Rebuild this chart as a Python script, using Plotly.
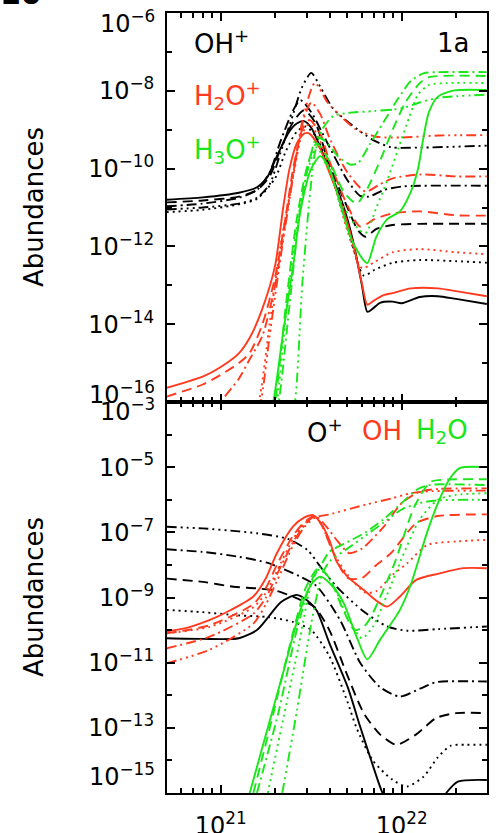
import numpy as np
import plotly.graph_objects as go

# ---------------- DATA (log10 N_H [cm^-2], log10 abundance) ----------------
# Panel 1a (top): OH+ (black)
ohp_solid_x = [20.70, 20.9, 21.1, 21.2, 21.26, 21.31, 21.38, 21.42, 21.46, 21.5, 21.55, 21.6, 21.65, 21.7, 21.74, 21.78, 21.81, 21.84, 21.88, 21.95, 22.0, 22.1, 22.2, 22.3, 22.47]
ohp_solid_y = [-10.80, -10.74, -10.62, -10.48, -10.2, -9.68, -9.04, -8.84, -8.78, -8.95, -9.45, -10.05, -10.6, -11.3, -12.05, -13.0, -13.68, -13.6, -13.45, -13.42, -13.46, -13.3, -13.28, -13.35, -13.48]
ohp_dash_x = [20.70, 20.9, 21.1, 21.2, 21.27, 21.33, 21.4, 21.46, 21.52, 21.6, 21.7, 21.76, 21.8, 21.86, 21.95, 22.1, 22.47]
ohp_dash_y = [-10.87, -10.82, -10.72, -10.55, -10.2, -9.5, -8.8, -8.5, -8.8, -9.9, -11.0, -11.6, -11.75, -11.55, -11.45, -11.42, -11.42]
ohp_dashdot_x = [20.70, 20.9, 21.1, 21.2, 21.27, 21.33, 21.4, 21.44, 21.5, 21.59, 21.7, 21.77, 21.82, 21.9, 22.0, 22.47]
ohp_dashdot_y = [-10.97, -10.9, -10.75, -10.55, -10.1, -9.3, -8.5, -8.24, -8.55, -9.35, -10.3, -10.7, -10.72, -10.55, -10.46, -10.44]
ohp_ddd_x = [20.70, 20.9, 21.1, 21.2, 21.27, 21.33, 21.4, 21.45, 21.5, 21.55, 21.62, 21.71, 21.84, 21.94, 22.1, 22.47]
ohp_ddd_y = [-11.05, -11.0, -10.9, -10.75, -10.4, -9.6, -8.6, -7.9, -7.54, -7.9, -8.45, -8.83, -9.26, -9.45, -9.46, -9.41]
ohp_dot_x = [20.70, 20.9, 21.1, 21.2, 21.3, 21.36, 21.42, 21.47, 21.53, 21.6, 21.7, 21.79, 21.85, 21.95, 22.1, 22.3, 22.47]
ohp_dot_y = [-11.12, -11.06, -10.92, -10.78, -10.25, -9.55, -9.05, -8.92, -9.2, -10.0, -11.5, -12.75, -12.6, -12.42, -12.35, -12.38, -12.42]

# Panel 1a (top): H2O+ (red)
h2op_solid_x = [20.70, 20.8, 20.9, 21.0, 21.1, 21.16, 21.23, 21.3, 21.345, 21.38, 21.42, 21.46, 21.49, 21.55, 21.6, 21.65, 21.7, 21.74, 21.78, 21.81, 21.85, 21.9, 21.95, 22.05, 22.2, 22.3, 22.47]
h2op_solid_y = [-15.64, -15.5, -15.35, -15.1, -14.75, -14.35, -13.6, -12.5, -11.0, -10.0, -9.35, -9.1, -9.1, -9.5, -10.1, -10.7, -11.4, -12.1, -12.95, -13.5, -13.38, -13.25, -13.2, -13.08, -13.08, -13.15, -13.28]
h2op_dash_x = [20.70, 20.9, 21.0, 21.1, 21.16, 21.23, 21.3, 21.36, 21.4, 21.45, 21.49, 21.55, 21.6, 21.7, 21.77, 21.85, 21.95, 22.1, 22.3, 22.47]
h2op_dash_y = [-15.86, -15.55, -15.3, -15.0, -14.74, -14.0, -12.8, -11.2, -10.0, -9.0, -8.75, -9.1, -9.8, -10.95, -11.49, -11.3, -11.15, -11.1, -11.2, -11.21]
h2op_dashdot_x = [20.97, 21.0, 21.1, 21.16, 21.23, 21.3, 21.36, 21.42, 21.46, 21.5, 21.55, 21.6, 21.7, 21.8, 21.88, 21.95, 22.1, 22.3, 22.47]
h2op_dashdot_y = [-16.3, -16.0, -15.4, -14.9, -14.3, -13.0, -11.3, -9.6, -8.7, -8.3, -8.6, -9.2, -10.1, -10.59, -10.4, -10.25, -10.15, -10.2, -10.2]
h2op_dot_x = [21.18, 21.21, 21.27, 21.33, 21.4, 21.45, 21.49, 21.55, 21.62, 21.7, 21.78, 21.85, 21.95, 22.1, 22.3, 22.47]
h2op_dot_y = [-16.3, -16.0, -14.0, -12.0, -10.2, -9.1, -8.85, -9.3, -10.3, -11.6, -12.56, -12.4, -12.15, -12.07, -12.15, -12.2]
h2op_ddd_x = [21.19, 21.22, 21.27, 21.33, 21.4, 21.45, 21.52, 21.59, 21.65, 21.75, 21.86, 22.0, 22.2, 22.47]
h2op_ddd_y = [-16.3, -16.0, -14.3, -12.3, -10.2, -8.8, -7.8, -8.3, -8.6, -9.0, -9.18, -9.2, -9.15, -9.14]

# Panel 1a (top): H3O+ (green)
h3op_solid_x = [21.27, 21.29, 21.345, 21.4, 21.44, 21.5, 21.55, 21.6, 21.66, 21.72, 21.78, 21.81, 21.86, 21.92, 21.99, 22.05, 22.09, 22.12, 22.15, 22.2, 22.29, 22.47]
h3op_solid_y = [-16.3, -16.0, -14.2, -12.5, -11.1, -10.0, -9.68, -10.0, -10.9, -11.8, -12.3, -12.43, -11.75, -11.3, -11.1, -10.6, -10.0, -9.2, -8.55, -8.15, -7.99, -7.98]
h3op_dashdot_x = [21.30, 21.32, 21.38, 21.44, 21.5, 21.53, 21.58, 21.65, 21.72, 21.76, 21.82, 21.9, 21.98, 22.05, 22.12, 22.2, 22.47]
h3op_dashdot_y = [-16.3, -16.0, -13.5, -11.0, -9.6, -9.2, -9.3, -9.7, -9.9, -9.85, -9.4, -8.8, -8.2, -7.75, -7.55, -7.52, -7.52]
h3op_dash_x = [21.28, 21.30, 21.36, 21.42, 21.48, 21.53, 21.6, 21.68, 21.75, 21.8, 21.88, 21.95, 22.02, 22.1, 22.15, 22.47]
h3op_dash_y = [-16.3, -16.0, -13.5, -11.3, -9.9, -9.35, -9.8, -10.6, -10.9, -10.6, -9.8, -9.0, -8.3, -7.8, -7.65, -7.62]
h3op_dot_x = [21.29, 21.31, 21.37, 21.43, 21.49, 21.53, 21.6, 21.68, 21.76, 21.8, 21.86, 21.92, 21.98, 22.04, 22.09, 22.15, 22.25, 22.47]
h3op_dot_y = [-16.3, -16.0, -13.3, -11.2, -9.9, -9.45, -10.1, -11.0, -11.55, -11.66, -11.0, -10.3, -9.5, -8.7, -8.1, -7.85, -7.8, -7.8]
h3op_ddd_x = [21.39, 21.41, 21.45, 21.49, 21.52, 21.56, 21.62, 21.7, 21.85, 22.0, 22.1, 22.2, 22.47]
h3op_ddd_y = [-16.3, -16.0, -13.0, -10.8, -9.6, -9.0, -8.65, -8.57, -8.52, -8.45, -8.3, -8.18, -8.1]

# Bottom panel: O+ (black)
op_solid_x = [20.70, 20.9, 21.1, 21.2, 21.27, 21.33, 21.42, 21.48, 21.53, 21.6, 21.7, 21.77, 21.83, 21.89, 21.95, 22.1, 22.2, 22.25, 22.31, 22.47]
op_solid_y = [-10.25, -10.27, -10.25, -10.0, -9.55, -9.15, -8.92, -9.1, -9.4, -10.4, -11.73, -12.96, -13.98, -14.95, -15.6, -15.8, -15.4, -14.97, -14.65, -14.6]
op_dot_x = [20.70, 20.9, 21.1, 21.26, 21.4, 21.5, 21.6, 21.7, 21.75, 21.84, 21.95, 22.03, 22.12, 22.2, 22.27, 22.35, 22.47]
op_dot_y = [-9.38, -9.45, -9.55, -9.6, -9.75, -10.0, -10.8, -12.2, -13.0, -14.0, -14.6, -14.8, -14.5, -13.9, -13.55, -13.52, -13.52]
op_dash_x = [20.70, 20.9, 21.07, 21.2, 21.31, 21.44, 21.52, 21.6, 21.7, 21.79, 21.88, 21.97, 22.08, 22.19, 22.3, 22.47]
op_dash_y = [-8.42, -8.52, -8.67, -8.72, -8.8, -9.07, -9.3, -10.0, -11.4, -12.55, -13.2, -13.52, -13.2, -12.7, -12.55, -12.55]
op_dashdot_x = [20.70, 20.9, 21.1, 21.26, 21.44, 21.53, 21.66, 21.77, 21.88, 21.99, 22.1, 22.19, 22.47]
op_dashdot_y = [-7.52, -7.6, -7.75, -7.94, -8.36, -8.65, -9.7, -11.0, -11.75, -12.04, -11.8, -11.6, -11.58]
op_ddd_x = [20.70, 20.9, 21.1, 21.2, 21.37, 21.48, 21.55, 21.64, 21.79, 21.92, 22.03, 22.2, 22.47]
op_ddd_y = [-6.83, -6.88, -6.97, -7.03, -7.2, -7.55, -8.05, -8.67, -9.43, -9.89, -10.02, -9.97, -9.89]

# Bottom panel: OH (red)
oh_solid_x = [20.70, 20.8, 20.94, 21.05, 21.18, 21.25, 21.31, 21.4, 21.46, 21.51, 21.55, 21.6, 21.64, 21.7, 21.79, 21.86, 21.92, 21.99, 22.08, 22.21, 22.34, 22.47]
oh_solid_y = [-10.04, -9.95, -9.69, -9.4, -8.97, -8.4, -7.64, -6.82, -6.55, -6.47, -6.7, -7.23, -7.9, -8.36, -8.77, -9.1, -9.28, -8.97, -8.46, -8.26, -8.1, -8.1]
oh_dash_x = [20.70, 20.94, 21.18, 21.25, 21.31, 21.4, 21.46, 21.52, 21.56, 21.62, 21.7, 21.78, 21.86, 21.94, 22.08, 22.2, 22.47]
oh_dash_y = [-10.1, -9.85, -9.2, -8.7, -8.0, -7.1, -6.7, -6.5, -6.8, -7.6, -8.4, -8.4, -8.0, -7.64, -6.72, -6.5, -6.45]
oh_dot_x = [20.70, 20.94, 21.18, 21.25, 21.31, 21.4, 21.46, 21.52, 21.56, 21.62, 21.7, 21.8, 21.86, 21.95, 22.03, 22.14, 22.3, 22.47]
oh_dot_y = [-10.1, -9.9, -9.3, -8.85, -8.2, -7.2, -6.75, -6.52, -6.8, -7.6, -8.3, -8.85, -8.8, -8.3, -7.95, -7.39, -7.28, -7.23]
oh_dashdot_x = [20.70, 20.94, 21.18, 21.25, 21.31, 21.4, 21.46, 21.52, 21.58, 21.65, 21.71, 21.78, 21.9, 22.0, 22.1, 22.2, 22.47]
oh_dashdot_y = [-10.56, -10.2, -9.5, -9.0, -8.3, -7.3, -6.8, -6.5, -6.8, -7.3, -7.64, -7.5, -6.83, -6.1, -5.75, -5.67, -5.65]
oh_ddd_x = [20.70, 20.94, 21.18, 21.25, 21.31, 21.4, 21.46, 21.52, 21.6, 21.8, 21.95, 22.05, 22.15, 22.47]
oh_ddd_y = [-11.02, -10.6, -9.8, -9.2, -8.5, -7.4, -6.85, -6.55, -6.45, -6.15, -5.95, -5.8, -5.74, -5.72]

# Bottom panel: H2O (green)
h2o_solid_x = [21.16, 21.25, 21.35, 21.44, 21.5, 21.55, 21.62, 21.68, 21.75, 21.81, 21.88, 21.99, 22.05, 22.14, 22.2, 22.26, 22.32, 22.47]
h2o_solid_y = [-15.0, -13.2, -11.2, -9.38, -8.6, -8.36, -8.67, -9.18, -10.2, -10.9, -10.3, -9.38, -8.6, -7.0, -6.1, -5.4, -5.03, -5.0]
h2o_dash_x = [21.18, 21.28, 21.38, 21.47, 21.54, 21.6, 21.67, 21.74, 21.79, 21.83, 21.96, 22.07, 22.16, 22.25, 22.47]
h2o_dash_y = [-15.0, -12.8, -10.5, -8.7, -8.1, -8.4, -9.3, -10.0, -9.9, -9.59, -7.95, -6.21, -5.45, -5.38, -5.37]
h2o_dot_x = [21.26, 21.35, 21.43, 21.5, 21.55, 21.62, 21.7, 21.78, 21.84, 21.92, 22.0, 22.1, 22.2, 22.3, 22.47]
h2o_dot_y = [-15.0, -12.6, -10.5, -8.6, -8.1, -8.6, -9.6, -10.25, -9.9, -8.9, -7.8, -6.6, -6.0, -5.85, -5.8]
h2o_dashdot_x = [21.20, 21.32, 21.42, 21.5, 21.55, 21.6, 21.7, 21.8, 21.9, 22.0, 22.08, 22.15, 22.47]
h2o_dashdot_y = [-15.0, -12.5, -10.0, -8.5, -8.05, -7.6, -7.3, -7.0, -6.6, -6.1, -5.7, -5.55, -5.55]
h2o_ddd_x = [21.34, 21.42, 21.5, 21.56, 21.6, 21.7, 21.8, 21.9, 22.0, 22.1, 22.2, 22.47]
h2o_ddd_y = [-15.0, -12.5, -9.8, -8.3, -7.9, -7.5, -7.1, -6.7, -6.3, -6.1, -6.02, -6.0]

# tick labels
top_tick_exp = [-16, -14, -12, -10, -8, -6]
bot_tick_exp = [-15, -13, -11, -9, -7, -5, -3]
x_tick_exp = [21, 22]

# ---------------- STYLE ----------------
BLACK = "#000000"
RED = "#ff3a1e"
GREEN = "#1ae61a"
DASH = {
    "solid": "solid",
    "dot": "2px,4px",
    "dash": "10px,6px",
    "dashdot": "10px,4px,2px,4px",
    "ddd": "10px,4px,2px,4px,2px,4px,2px,4px",
}
FONT = "DejaVu Sans"
TICKSIZE = 24

W, H = 500, 833
L, R, T, B = 167, 13, 13, 40
PW, PH = W - L - R, H - T - B
SPLIT = (H - B - 402) / PH


def paper(px, py):
    return (px - L) / PW, (H - B - py) / PH


fig = go.Figure()


def add(xs, ys, color, style, panel):
    fig.add_trace(go.Scatter(
        x=np.power(10.0, xs), y=np.power(10.0, ys), mode="lines",
        line=dict(color=color, width=1.9, dash=DASH[style], shape="spline", smoothing=0.7),
        xaxis="x" if panel == 1 else "x2", yaxis="y" if panel == 1 else "y2",
        showlegend=False, hoverinfo="skip"))


top = [
    (ohp_solid_x, ohp_solid_y, BLACK, "solid"), (ohp_dash_x, ohp_dash_y, BLACK, "dash"),
    (ohp_dashdot_x, ohp_dashdot_y, BLACK, "dashdot"), (ohp_ddd_x, ohp_ddd_y, BLACK, "ddd"),
    (ohp_dot_x, ohp_dot_y, BLACK, "dot"),
    (h2op_solid_x, h2op_solid_y, RED, "solid"), (h2op_dash_x, h2op_dash_y, RED, "dash"),
    (h2op_dashdot_x, h2op_dashdot_y, RED, "dashdot"), (h2op_dot_x, h2op_dot_y, RED, "dot"),
    (h2op_ddd_x, h2op_ddd_y, RED, "ddd"),
    (h3op_solid_x, h3op_solid_y, GREEN, "solid"), (h3op_dashdot_x, h3op_dashdot_y, GREEN, "dashdot"),
    (h3op_dash_x, h3op_dash_y, GREEN, "dash"), (h3op_dot_x, h3op_dot_y, GREEN, "dot"),
    (h3op_ddd_x, h3op_ddd_y, GREEN, "ddd"),
]
bottom = [
    (op_solid_x, op_solid_y, BLACK, "solid"), (op_dot_x, op_dot_y, BLACK, "dot"),
    (op_dash_x, op_dash_y, BLACK, "dash"), (op_dashdot_x, op_dashdot_y, BLACK, "dashdot"),
    (op_ddd_x, op_ddd_y, BLACK, "ddd"),
    (oh_solid_x, oh_solid_y, RED, "solid"), (oh_dash_x, oh_dash_y, RED, "dash"),
    (oh_dot_x, oh_dot_y, RED, "dot"), (oh_dashdot_x, oh_dashdot_y, RED, "dashdot"),
    (oh_ddd_x, oh_ddd_y, RED, "ddd"),
    (h2o_solid_x, h2o_solid_y, GREEN, "solid"), (h2o_dash_x, h2o_dash_y, GREEN, "dash"),
    (h2o_dot_x, h2o_dot_y, GREEN, "dot"), (h2o_dashdot_x, h2o_dashdot_y, GREEN, "dashdot"),
    (h2o_ddd_x, h2o_ddd_y, GREEN, "ddd"),
]
for xs, ys, c, s in top:
    add(xs, ys, c, s, 1)
for xs, ys, c, s in bottom:
    add(xs, ys, c, s, 2)


def sup(e):
    return "10<sup>" + str(e).replace("-", "\u2212") + "</sup>"


axis_common = dict(type="log", showline=True, linewidth=2, linecolor="black", mirror="ticks",
                   ticks="inside", tickwidth=1.5, tickcolor="black", showgrid=False, zeroline=False,
                   automargin=False,
                   tickfont=dict(family=FONT, size=TICKSIZE, color="black"))

xmin, xmax = 20.703, 22.471
x_minor = [6e20, 7e20, 8e20, 9e20] + [k * 1e21 for k in range(2, 10)] + [2e22]

fig.update_layout(
    width=W, height=H, margin=dict(l=L, r=R, t=T, b=B, autoexpand=False),
    paper_bgcolor="white", plot_bgcolor="white",
    font=dict(family=FONT, color="black"),
    xaxis=dict(axis_common, domain=[0, 1], anchor="y", range=[xmin, xmax],
               tickmode="array", tickvals=[10.0 ** e for e in x_tick_exp], ticklen=8,
               showticklabels=False,
               minor=dict(tickmode="array", tickvals=x_minor, ticks="inside", ticklen=5,
                          tickwidth=1.5, tickcolor="black", showgrid=False)),
    xaxis2=dict(axis_common, domain=[0, 1], anchor="y2", range=[xmin, xmax],
                tickmode="array", tickvals=[10.0 ** e for e in x_tick_exp],
                ticktext=[sup(e) for e in x_tick_exp], ticklen=8, ticklabelstandoff=10,
                minor=dict(tickmode="array", tickvals=x_minor, ticks="inside", ticklen=5,
                           tickwidth=1.5, tickcolor="black", showgrid=False)),
    yaxis=dict(axis_common, domain=[SPLIT, 1], anchor="x", range=[-16, -6],
               tickmode="array", tickvals=[10.0 ** e for e in top_tick_exp],
               ticktext=["" if e in (-16, -6) else sup(e) for e in top_tick_exp],
               ticklen=8, ticklabelstandoff=6,
               minor=dict(tickmode="array", tickvals=[10.0 ** e for e in range(-15, -6, 2)],
                          ticks="inside", ticklen=5, tickwidth=1.5, tickcolor="black", showgrid=False)),
    yaxis2=dict(axis_common, domain=[0, SPLIT], anchor="x2", range=[-15, -3],
                tickmode="array", tickvals=[10.0 ** e for e in bot_tick_exp],
                ticktext=["" if e in (-15, -3) else sup(e) for e in bot_tick_exp],
                ticklen=8, ticklabelstandoff=6,
                minor=dict(tickmode="array", tickvals=[10.0 ** e for e in range(-14, -3, 2)],
                           ticks="inside", ticklen=5, tickwidth=1.5, tickcolor="black", showgrid=False)),
)

ann = []


def text(px, py, s, color="black", size=26, xanchor="left", angle=0, bold=False):
    x, y = paper(px, py)
    if bold:
        s = "<b>" + s + "</b>"
    ann.append(dict(x=x, y=y, xref="paper", yref="paper", text=s, showarrow=False,
                    xanchor=xanchor, yanchor="middle", textangle=angle,
                    font=dict(family=FONT, size=size, color=color)))


# edge tick labels (shifted inward as in the original)
text(157, 22, sup(-6), size=TICKSIZE, xanchor="right")
text(157, 393, sup(-16), size=TICKSIZE, xanchor="right")
text(157, 410, sup(-3), size=TICKSIZE, xanchor="right")
text(157, 775, sup(-15), size=TICKSIZE, xanchor="right")

# species labels
text(192, 42, "OH<sup>+</sup>")
text(192, 96, "H<sub>2</sub>O<sup>+</sup>", color=RED)
text(192, 149, "H<sub>3</sub>O<sup>+</sup>", color=GREEN)
text(471, 43, "1a", xanchor="right")
text(305, 431, "O<sup>+</sup>")
text(360, 431, "OH", color=RED)
text(414, 431, "H<sub>2</sub>O", color=GREEN)

# y titles
text(34, 207, "Abundances", size=26, xanchor="center", angle=-90)
text(34, 597, "Abundances", size=26, xanchor="center", angle=-90)

# cropped figure number at top-left
text(44, -7, "10", size=30, xanchor="right", bold=True)

fig.update_layout(annotations=ann)
fig.write_html("out.html")
